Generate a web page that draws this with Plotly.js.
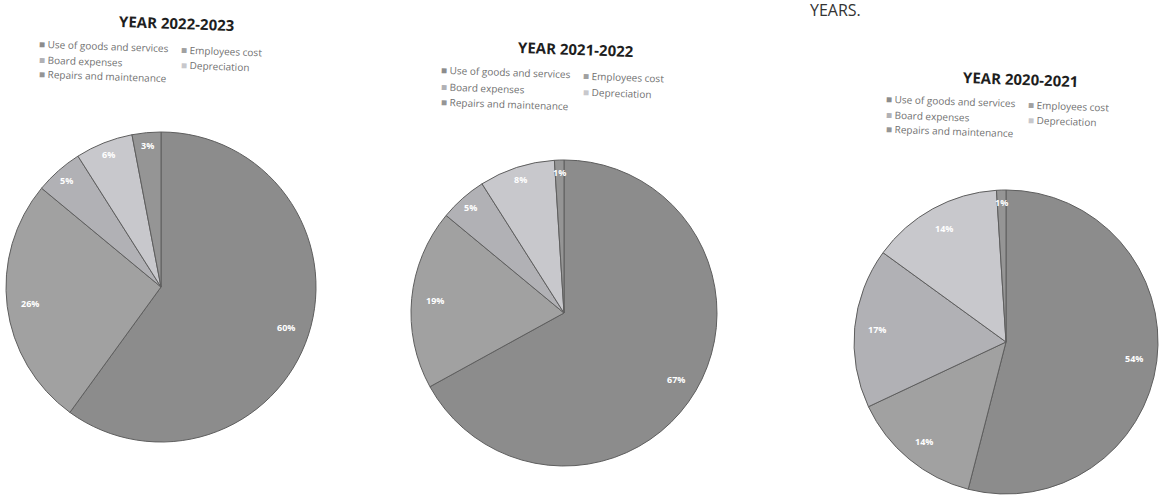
<!DOCTYPE html>
<html><head><meta charset="utf-8">
<script src="https://cdn.plot.ly/plotly-3.0.1.min.js"></script>
<style>html,body{margin:0;padding:0;background:#fff}#chart{width:1160px;height:496px}</style>
</head><body><div id="chart"></div>
<script>
// ---- data ----
const categories = ["Use of goods and services", "Employees cost", "Board expenses", "Depreciation", "Repairs and maintenance"];
const yearTitles = ["YEAR 2022-2023", "YEAR 2021-2022", "YEAR 2020-2021"];
const values2022_23 = [60, 26, 5, 6, 3];
const values2021_22 = [67, 19, 5, 8, 1];
const values2020_21 = [54, 14, 17, 14, 1];
const headingFragment = "YEARS.";

// ---- styles / layout geometry ----
const sliceColors = ["#8c8c8c", "#a1a1a1", "#b1b1b5", "#c8c8cc", "#959595"];
const W = 1160, H = 496;
const tilt = 2; // scanned page slightly rotated
const panels = [
  {values: values2022_23, title: yearTitles[0], cx: 161, cy: 287, r: 155, tx: 176, ty: 23, lx: 37, ly: 46, rowGap: 15},
  {values: values2021_22, title: yearTitles[1], cx: 564, cy: 313, r: 153, tx: 576, ty: 49, lx: 439, ly: 72, rowGap: 16},
  {values: values2020_21, title: yearTitles[2], cx: 1006, cy: 342, r: 152, tx: 1020, ty: 79, lx: 884, ly: 101, rowGap: 15}
];
// legend grid: [column, row]
const legendGrid = [[0,0],[1,0],[0,1],[1,1],[0,2]];
const colWidth = 142;

const px = x => x / W;
const py = y => 1 - y / H;

const traces = [];
const annotations = [];

panels.forEach((p, i) => {
  traces.push({
    type: 'pie',
    labels: categories,
    values: p.values,
    sort: false,
    direction: 'clockwise',
    rotation: 0,
    textinfo: 'none',
    hoverinfo: 'label+percent',
    showlegend: false,
    marker: {colors: sliceColors, line: {color: '#5e5e5e', width: 1}},
    domain: {x: [px(p.cx - p.r), px(p.cx + p.r)], y: [py(p.cy + p.r), py(p.cy - p.r)]}
  });

  // percent labels
  const total = p.values.reduce((a, b) => a + b, 0);
  let cum = 0;
  p.values.forEach(v => {
    const th = (cum + v / 2) / total * 2 * Math.PI;
    cum += v;
    const rho = p.r * (v / total >= 0.1 ? 0.85 : 0.92);
    annotations.push({
      xref: 'paper', yref: 'paper',
      x: px(p.cx + rho * Math.sin(th)), y: py(p.cy - rho * Math.cos(th)),
      xanchor: 'center', yanchor: 'middle', showarrow: false,
      text: Math.round(v / total * 100) + '%',
      font: {family: 'Open Sans', size: 9, color: '#ffffff', weight: 'bold'}
    });
  });

  // title
  annotations.push({
    xref: 'paper', yref: 'paper', x: px(p.tx), y: py(p.ty),
    xanchor: 'center', yanchor: 'middle', showarrow: false, textangle: tilt,
    text: '<b>' + p.title + '</b>',
    font: {family: 'Open Sans', size: 15, color: '#1e1e1e'}
  });

  // legend entries
  categories.forEach((c, k) => {
    const [col, row] = legendGrid[k];
    const dx = col * colWidth;
    annotations.push({
      xref: 'paper', yref: 'paper',
      x: px(p.lx + dx), y: py(p.ly + row * p.rowGap + dx * Math.tan(tilt * Math.PI / 180)),
      xanchor: 'left', yanchor: 'middle', showarrow: false, textangle: tilt,
      text: '<span style="color:' + sliceColors[k] + '">■</span> ' + c,
      font: {family: 'Open Sans', size: 10, color: '#707070'}
    });
  });
});

// fragment of the page heading at the top of the scan
annotations.push({
  xref: 'paper', yref: 'paper', x: px(835), y: py(10),
  xanchor: 'center', yanchor: 'middle', showarrow: false,
  text: headingFragment,
  font: {family: 'Open Sans', size: 16, color: '#333333'}
});

const layout = {
  width: W, height: H,
  margin: {l: 0, r: 0, t: 0, b: 0},
  paper_bgcolor: '#ffffff',
  showlegend: false,
  annotations: annotations
};

Plotly.newPlot('chart', traces, layout, {displayModeBar: false, staticPlot: true});
</script>
</body></html>
